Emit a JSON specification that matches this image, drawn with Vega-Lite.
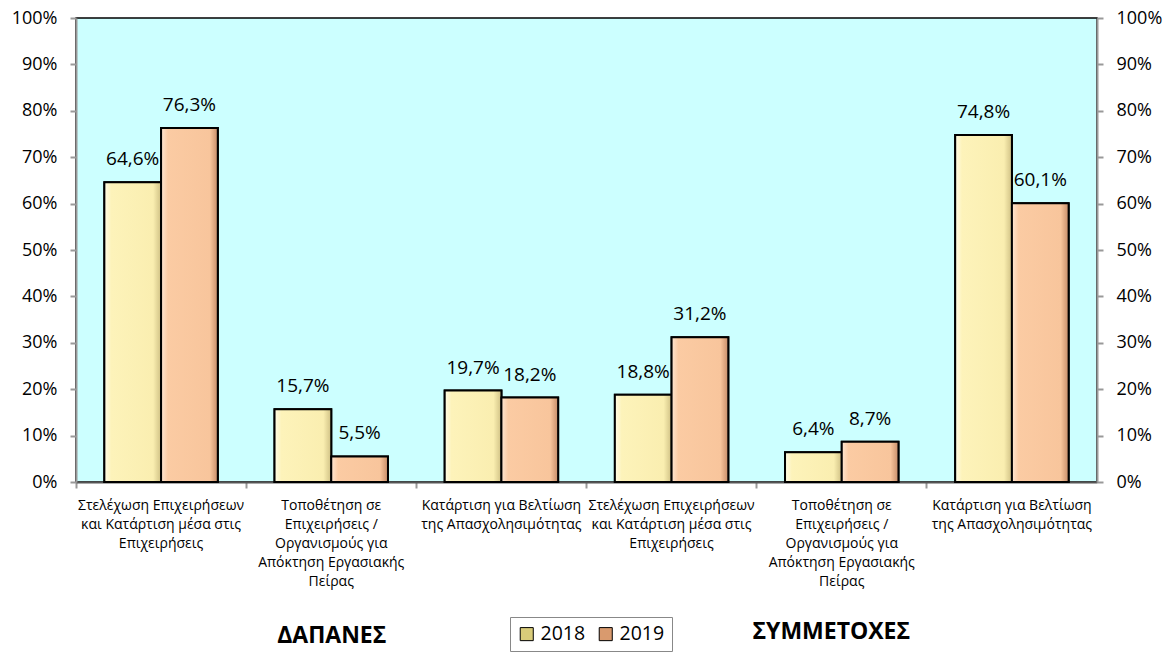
{
  "$schema": "https://vega.github.io/schema/vega-lite/v6.json",
  "width": 1021,
  "height": 464,
  "autosize": {"type": "none"},
  "padding": {"left": 76, "top": 18, "right": 73, "bottom": 171},
  "background": "white",
  "config": {
    "locale": {"number": {"decimal": ",", "thousands": ".", "grouping": [3], "currency": ["", " €"]}},
    "view": {"fill": "#CCFFFF", "stroke": "#000", "strokeWidth": 1.5},
    "font": "Open Sans"
  },
  "data": {
    "values": [
      {"key": "a1|Στελέχωση Επιχειρήσεων|και Κατάρτιση μέσα στις|Επιχειρήσεις", "group": "ΔΑΠΑΝΕΣ", "year": "2018", "value": 0.646},
      {"key": "a1|Στελέχωση Επιχειρήσεων|και Κατάρτιση μέσα στις|Επιχειρήσεις", "group": "ΔΑΠΑΝΕΣ", "year": "2019", "value": 0.763},
      {"key": "a2|Τοποθέτηση σε|Επιχειρήσεις /|Οργανισμούς για|Απόκτηση Εργασιακής|Πείρας", "group": "ΔΑΠΑΝΕΣ", "year": "2018", "value": 0.157},
      {"key": "a2|Τοποθέτηση σε|Επιχειρήσεις /|Οργανισμούς για|Απόκτηση Εργασιακής|Πείρας", "group": "ΔΑΠΑΝΕΣ", "year": "2019", "value": 0.055},
      {"key": "a3|Κατάρτιση για Βελτίωση|της Απασχολησιμότητας", "group": "ΔΑΠΑΝΕΣ", "year": "2018", "value": 0.197},
      {"key": "a3|Κατάρτιση για Βελτίωση|της Απασχολησιμότητας", "group": "ΔΑΠΑΝΕΣ", "year": "2019", "value": 0.182},
      {"key": "b1|Στελέχωση Επιχειρήσεων|και Κατάρτιση μέσα στις|Επιχειρήσεις", "group": "ΣΥΜΜΕΤΟΧΕΣ", "year": "2018", "value": 0.188},
      {"key": "b1|Στελέχωση Επιχειρήσεων|και Κατάρτιση μέσα στις|Επιχειρήσεις", "group": "ΣΥΜΜΕΤΟΧΕΣ", "year": "2019", "value": 0.312},
      {"key": "b2|Τοποθέτηση σε|Επιχειρήσεις /|Οργανισμούς για|Απόκτηση Εργασιακής|Πείρας", "group": "ΣΥΜΜΕΤΟΧΕΣ", "year": "2018", "value": 0.064},
      {"key": "b2|Τοποθέτηση σε|Επιχειρήσεις /|Οργανισμούς για|Απόκτηση Εργασιακής|Πείρας", "group": "ΣΥΜΜΕΤΟΧΕΣ", "year": "2019", "value": 0.087},
      {"key": "b3|Κατάρτιση για Βελτίωση|της Απασχολησιμότητας", "group": "ΣΥΜΜΕΤΟΧΕΣ", "year": "2018", "value": 0.748},
      {"key": "b3|Κατάρτιση για Βελτίωση|της Απασχολησιμότητας", "group": "ΣΥΜΜΕΤΟΧΕΣ", "year": "2019", "value": 0.601}
    ]
  },
  "layer": [
    {
      "encoding": {
        "x": {
          "field": "key", "type": "nominal", "sort": null,
          "scale": {"paddingInner": 0, "paddingOuter": 0},
          "axis": {
            "title": null, "labelAngle": 0, "bandPosition": 0,
            "labelExpr": "slice(split(datum.value, '|'), 1)",
            "tickSize": 6, "tickColor": "#999", "tickWidth": 2,
            "domainColor": "#555", "domainWidth": 2,
            "labelFontSize": 14, "labelLineHeight": 19, "labelPadding": 10,
            "labelBaseline": "top", "labelAlign": "center", "labelColor": "#000",
            "labelOverlap": false, "labelBound": false, "labelFlush": false, "labelLimit": 0
          }
        },
        "xOffset": {"field": "year", "type": "nominal", "scale": {"paddingOuter": 0.5, "paddingInner": 0}},
        "y": {
          "field": "value", "type": "quantitative",
          "scale": {"domain": [0, 1], "nice": false},
          "axis": {
            "orient": "left", "title": null, "grid": false,
            "values": [0, 0.1, 0.2, 0.3, 0.4, 0.5, 0.6, 0.7, 0.8, 0.9, 1],
            "format": ".0%", "labelFontSize": 18, "labelColor": "#000",
            "tickSize": 6, "tickColor": "#999", "tickWidth": 2,
            "domainColor": "#999", "domainWidth": 2, "labelPadding": 13
          }
        }
      },
      "layer": [
        {
          "mark": {"type": "bar", "stroke": "#000", "strokeWidth": 2},
          "encoding": {
            "color": {
              "field": "year", "type": "nominal",
              "scale": {"domain": ["2018", "2019"], "range": ["#D9CC7A", "#D99A6E"]},
              "legend": {
                "orient": "none", "legendX": 434, "legendY": 599, "direction": "horizontal",
                "title": null, "symbolType": "square", "symbolSize": 170,
                "symbolStrokeColor": "#000", "symbolStrokeWidth": 1, "symbolOpacity": 1,
                "labelFontSize": 19.5, "labelColor": "#000", "strokeColor": "#888",
                "padding": 7, "columnPadding": 10, "labelOffset": 4
              }
            }
          }
        },
        {
          "transform": [{"filter": "datum.year === '2018'"}],
          "mark": {
            "type": "bar", "stroke": "#000", "strokeWidth": 2,
            "fill": {
              "gradient": "linear", "x1": 0, "y1": 0, "x2": 1, "y2": 0,
              "stops": [
                {"offset": 0, "color": "#FFFCE8"},
                {"offset": 0.12, "color": "#FDF3BA"},
                {"offset": 0.86, "color": "#FAEEB0"},
                {"offset": 1, "color": "#CFC084"}
              ]
            }
          }
        },
        {
          "transform": [{"filter": "datum.year === '2019'"}],
          "mark": {
            "type": "bar", "stroke": "#000", "strokeWidth": 2,
            "fill": {
              "gradient": "linear", "x1": 0, "y1": 0, "x2": 1, "y2": 0,
              "stops": [
                {"offset": 0, "color": "#FEE6D2"},
                {"offset": 0.12, "color": "#FBCBA3"},
                {"offset": 0.86, "color": "#F8C59C"},
                {"offset": 1, "color": "#C68C68"}
              ]
            }
          }
        },
        {
          "mark": {"type": "text", "baseline": "bottom", "dy": -13, "fontSize": 19, "color": "#000"},
          "encoding": {"text": {"field": "value", "type": "quantitative", "format": ".1%"}}
        }
      ]
    },
    {
      "mark": {"type": "point", "opacity": 0},
      "encoding": {
        "x": {
          "field": "group", "type": "nominal", "sort": null,
          "scale": {"paddingInner": 0, "paddingOuter": 0},
          "axis": {
            "orient": "bottom", "title": null, "offset": 142, "domain": false, "ticks": false,
            "labelAngle": 0, "labelFontSize": 23, "labelFontWeight": "bold", "labelColor": "#000",
            "labelPadding": {"condition": {"test": "datum.value === 'ΣΥΜΜΕΤΟΧΕΣ'", "value": -4}, "value": 0},
            "labelOffset": {"condition": {"test": "datum.value === 'ΣΥΜΜΕΤΟΧΕΣ'", "value": -11}, "value": 0},
            "labelBaseline": "top", "labelAlign": "center"
          }
        },
        "y": {
          "field": "value", "type": "quantitative",
          "scale": {"domain": [0, 1], "nice": false},
          "axis": {
            "orient": "right", "title": null, "grid": false,
            "values": [0, 0.1, 0.2, 0.3, 0.4, 0.5, 0.6, 0.7, 0.8, 0.9, 1],
            "format": ".0%", "labelFontSize": 18, "labelColor": "#000",
            "tickSize": 6, "tickColor": "#999", "tickWidth": 2,
            "domainColor": "#999", "domainWidth": 2, "labelPadding": 13
          }
        }
      }
    }
  ],
  "resolve": {"scale": {"x": "independent", "y": "independent"}}
}
